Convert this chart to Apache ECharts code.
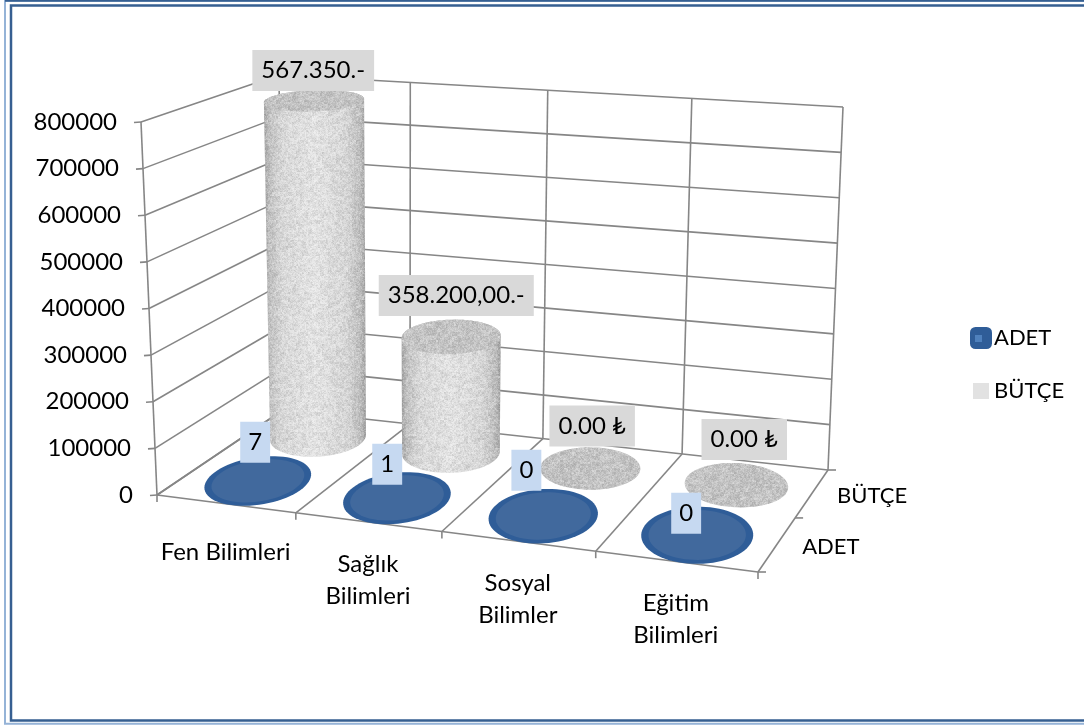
<!DOCTYPE html>
<html><head><meta charset="utf-8">
<style>html,body{margin:0;padding:0;background:#fff}#c{width:1084px;height:725px}</style>
<script src="https://cdn.jsdelivr.net/npm/echarts@6/dist/echarts.min.js"></script>
</head><body><div id="c"></div>
<script>
// ---- data ----
const categories = ['Fen Bilimleri', 'Sağlık\nBilimleri', 'Sosyal\nBilimler', 'Eğitim\nBilimleri'];
const rows = ['ADET', 'BÜTÇE'];
const yTicks = [0, 100000, 200000, 300000, 400000, 500000, 600000, 700000, 800000];
const adetValues = [7, 1, 0, 0];
const butceValues = [775000, 261000, 0, 0];
const adetLabels = ['7', '1', '0', '0'];
const butceLabels = ['567.350.-', '358.200,00.-', '0.00 ₺', '0.00 ₺'];

// ---- layout of the oblique box (screen corners of floor and ceiling) ----
const FONT = 'Lato, "DejaVu Sans", sans-serif';
const FS = 24, FS_CAPS = 22;
const GW = 1000, GH = 700;
const floorQuad = [[157,495],[758,572],[828,470],[283,410]];
const topQuad = [[141,122],[772,164],[843,107],[279,75]];
const adetNudge = [[-3,-38],[-10,-33],[-17,-45],[-11,-21]];
const butceNudge = [[-1,-30],[5,-41],[2,-42],[8,-45]];
const RADII = [{ru:0.086,rw:0.255},{ru:0.085,rw:0.22}];
const SHEAR = 0.012;
const LINE = '#868686';

function makeH(q){
  const [[x0,y0],[x1,y1],[x2,y2],[x3,y3]] = q;
  const dx1=x1-x2, dx2=x3-x2, sx=x0-x1+x2-x3, dy1=y1-y2, dy2=y3-y2, sy=y0-y1+y2-y3;
  const den=dx1*dy2-dx2*dy1, g=(sx*dy2-dx2*sy)/den, h=(dx1*sy-sx*dy1)/den;
  const a=x1-x0+g*x1, b=x3-x0+h*x3, d=y1-y0+g*y1, e=y3-y0+h*y3;
  return (u,w)=>{const k=g*u+h*w+1; return [(a*u+b*w+x0)/k,(d*u+e*w+y0)/k];};
}
const HF = makeH(floorQuad), HT = makeH(topQuad);
function P(u,w,v){const f=HF(u,w),t=HT(u,w);return [f[0]+v*(t[0]-f[0]),f[1]+v*(t[1]-f[1])];}

function circle(u,w,v,s,r){
  const pts=[];
  for(let i=0;i<72;i++){const t=i/72*Math.PI*2;
    pts.push(P(u+s*(r.ru*Math.cos(t)-SHEAR*Math.sin(t)),w+r.rw*s*Math.sin(t),v));}
  return pts;
}
function hull(points){
  const p=points.slice().sort((a,b)=>a[0]-b[0]||a[1]-b[1]);
  const cr=(o,a,b)=>(a[0]-o[0])*(b[1]-o[1])-(a[1]-o[1])*(b[0]-o[0]);
  const lo=[],up=[];
  for(const q of p){while(lo.length>1&&cr(lo[lo.length-2],lo[lo.length-1],q)<=0)lo.pop();lo.push(q);}
  for(let i=p.length-1;i>=0;i--){const q=p[i];while(up.length>1&&cr(up[up.length-2],up[up.length-1],q)<=0)up.pop();up.push(q);}
  lo.pop();up.pop();return lo.concat(up);
}

// soft mottled texture (deterministic, decoration only)
function speckle(){
  const N=192,c=document.createElement('canvas');c.width=c.height=N;
  const x=c.getContext('2d');
  let s=12345;
  const rnd=()=>{s=(s*1103515245+12345)&0x7fffffff;return (s>>10)%1000/1000;};
  [[1,0.13],[2,0.10],[4,0.06]].forEach(([cell,alpha])=>{
    for(let j=0;j<N;j+=cell)for(let i=0;i<N;i+=cell){
      const r=rnd();
      x.fillStyle=r<0.5?'rgba(110,110,110,'+(alpha*(0.5-r)*2)+')':'rgba(255,255,255,'+(alpha*(r-0.5)*4)+')';
      x.fillRect(i,j,cell,cell);
    }
  });
  return c;
}
const pattern={image:speckle(),repeat:'repeat'};

const line=(a,b,w)=>({type:'line',shape:{x1:a[0],y1:a[1],x2:b[0],y2:b[1]},style:{stroke:LINE,lineWidth:w||1.6},silent:true});
const txt=(s,x,y,align,vAlign,extra)=>({type:'text',silent:true,style:Object.assign({text:s,x:x,y:y,fill:'#000',fontFamily:FONT,fontSize:FS,align:align,verticalAlign:vAlign,lineHeight:32},extra||{})});

function renderWalls(params,api){
  const ch=[];
  const vOf=t=>1-api.coord([0,t])[1]/GH;
  yTicks.forEach(t=>{
    const v=vOf(t),a=P(0,0,v),b=P(0,1,v),c=P(1,1,v);
    ch.push(line(a,b),line(b,c),line([a[0]-7,a[1]+0.5],a));
    ch.push(txt(String(t),a[0]-24,a[1],'right','middle'));
  });
  ch.push(line(P(0,0,0),P(0,0,1)));
  const n=categories.length;
  for(let i=0;i<=n;i++){
    const u=i/n;
    ch.push(line(P(u,1,0),P(u,1,1)),line(P(u,0,0),P(u,1,0)));
    const f=P(u,0,0);ch.push(line(f,[f[0],f[1]+7]));
  }
  ch.push(line(P(0,0,0),P(1,0,0)));
  [0,0.5,1].forEach(w=>{const a=P(1,w,0);ch.push(line(a,[a[0]+8,a[1]]));});
  categories.forEach((c,i)=>{
    const f=P((i+0.5)/n,0,0),multi=c.indexOf('\n')>=0;
    ch.push(txt(c,f[0],f[1]+(multi?58:48),'center','middle'));
  });
  rows.forEach((r,i)=>{
    const a=P(1,(i+0.5)/rows.length,0);
    ch.push(txt(r,a[0]+25,a[1]+3,'left','middle',{fontSize:FS_CAPS}));
  });
  return {type:'group',children:ch};
}

function projected(api,row){
  const i=api.value(0),val=api.value(1),c=api.coord([i,val]);
  return {i:i,u:c[0]/GW,v:1-c[1]/GH,w:(row+0.5)/rows.length,r:RADII[row]};
}
function box(s,p,nudge,bg,padX){
  return txt(s,p[0]+nudge[0],p[1]+nudge[1],'center','middle',{backgroundColor:bg,padding:[5,padX,4,padX],lineHeight:32});
}
function renderAdet(params,api){
  const d=projected(api,0),base=circle(d.u,d.w,0,1,d.r),top=circle(d.u,d.w,d.v,1,d.r);
  const ch=[{type:'polygon',shape:{points:hull(base.concat(top))},style:{fill:'#2F5D98'}},
            {type:'polygon',shape:{points:circle(d.u,d.w,d.v,0.87,d.r)},style:{fill:'#41699D'}},
            box(adetLabels[d.i],P(d.u,d.w,d.v),adetNudge[d.i],'#C6D9F1',8)];
  return {type:'group',children:ch};
}
function renderButce(params,api){
  const d=projected(api,1),base=circle(d.u,d.w,0,1,d.r),top=circle(d.u,d.w,d.v,1,d.r);
  const ch=[];
  if(d.v>0.001){
    const sil=hull(base.concat(top));
    ch.push({type:'polygon',shape:{points:sil},style:{fill:{type:'linear',x:0,y:0,x2:1,y2:0,colorStops:[
      {offset:0,color:'#9c9c9c'},{offset:0.05,color:'#bcbcbc'},{offset:0.18,color:'#d9d9d9'},
      {offset:0.5,color:'#e6e6e6'},{offset:0.82,color:'#d6d6d6'},{offset:0.95,color:'#b8b8b8'},{offset:1,color:'#9a9a9a'}]}}});
    ch.push({type:'polygon',shape:{points:sil},style:{fill:pattern}});
  }
  ch.push({type:'polygon',shape:{points:top},style:{fill:'#c0c0c0'}});
  ch.push({type:'polygon',shape:{points:top},style:{fill:pattern}});
  ch.push(box(butceLabels[d.i],P(d.u,d.w,d.v),butceNudge[d.i],'#D9D9D9',9));
  return {type:'group',children:ch};
}

const chart=echarts.init(document.getElementById('c'),null,{renderer:'canvas'});
chart.setOption({
  animation:false,
  backgroundColor:'#fff',
  grid:{left:0,top:0,width:GW,height:GH},
  xAxis:{type:'category',data:categories,show:false},
  yAxis:{type:'value',min:0,max:800000,interval:100000,show:false},
  legend:{
    orient:'vertical',left:967,top:327,padding:0,itemWidth:22,itemHeight:22,itemGap:28,selectedMode:false,
    textStyle:{fontFamily:FONT,fontSize:FS_CAPS,color:'#000',padding:[0,0,0,-3]},
    data:[
      {name:'ADET',icon:'roundRect',itemStyle:{color:'#2F5D98',borderWidth:0}},
      {name:'BÜTÇE',icon:'rect',itemStyle:{color:'#e2e2e2',borderColor:'#fff',borderWidth:6}}
    ]
  },
  graphic:[
    {type:'rect',shape:{x:5,y:0.8,width:1200,height:723},style:{fill:'none',stroke:'#95B3D7',lineWidth:2},z:100,silent:true},
    {type:'line',shape:{x1:5,y1:0.8,x2:1200,y2:0.8},style:{stroke:'#365F91',lineWidth:2},z:100,silent:true},
    {type:'rect',shape:{x:11,y:5.5,width:1200,height:715},style:{fill:'none',stroke:'#365F91',lineWidth:2.5},z:100,silent:true},
    {type:'rect',shape:{x:975,y:335,width:7,height:7},style:{fill:'#4F81BD'},z:100,silent:true}
  ],
  series:[
    {type:'custom',name:'walls',coordinateSystem:'cartesian2d',z:1,silent:true,clip:false,renderItem:renderWalls,data:[[0,0]]},
    {type:'custom',name:'BÜTÇE',coordinateSystem:'cartesian2d',z:2,silent:true,clip:false,renderItem:renderButce,encode:{x:0,y:1},itemStyle:{color:'#e2e2e2'},data:butceValues.map((v,i)=>[i,v])},
    {type:'custom',name:'ADET',coordinateSystem:'cartesian2d',z:3,silent:true,clip:false,renderItem:renderAdet,encode:{x:0,y:1},itemStyle:{color:'#2F5D98'},data:adetValues.map((v,i)=>[i,v])}
  ]
});
</script></body></html>
